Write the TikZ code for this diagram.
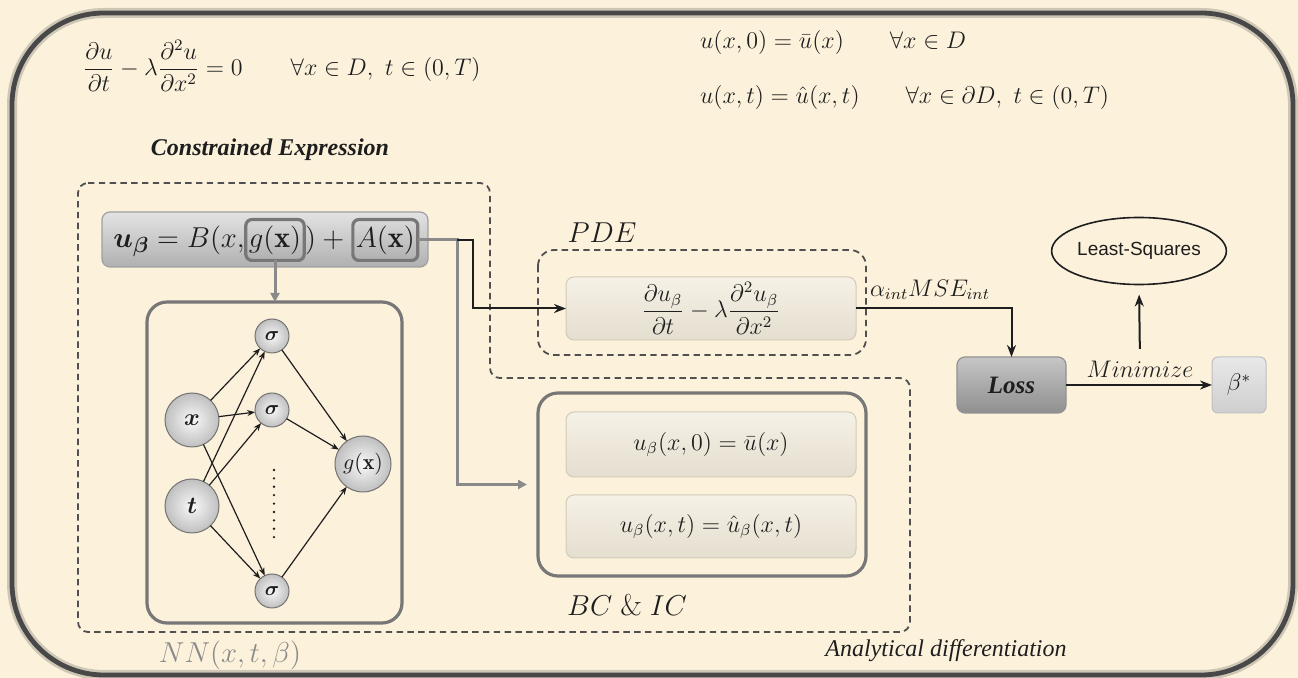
\documentclass[tikz,border=0pt]{standalone}
\usepackage{fontspec}
\usepackage{amsmath,amssymb,bm}
\newfontfamily\seriftxt{Liberation Serif}
\newfontfamily\sanstxt{Liberation Sans}
\usetikzlibrary{arrows.meta,shapes.geometric}

\definecolor{paper}{HTML}{FCF2DC}
\definecolor{frame}{HTML}{484848}
\definecolor{dashc}{HTML}{505050}
\definecolor{grayedge}{HTML}{777777}
\definecolor{grayline}{HTML}{8A8A8A}
\definecolor{ink}{HTML}{1E1E1E}
\definecolor{softtop}{HTML}{F6F1E6}
\definecolor{softbot}{HTML}{E4DECF}
\definecolor{softedge}{HTML}{D2CAB8}
\definecolor{nngray}{HTML}{8A8A8A}

\newcommand{\fs}[1]{\fontsize{#1}{#1}\selectfont}

\begin{document}
\begin{tikzpicture}[x=0.5pt,y=-0.5pt,
  every node/.style={inner sep=0pt, outer sep=0pt, text=ink},
  dashregion/.style={draw=dashc, line width=0.9pt, dash pattern=on 3.2pt off 2.2pt, rounded corners=5pt},
  graybox/.style={rectangle, draw=grayedge, line width=1.6pt, rounded corners=10pt},
  ubox/.style={rectangle, rounded corners=4pt, draw=grayedge!70, line width=0.6pt, top color=gray!22, bottom color=gray!62},
  fbox/.style={rectangle, rounded corners=3pt, draw=grayedge, line width=1.6pt, top color=gray!30, bottom color=gray!62, inner xsep=1.5pt, inner ysep=3pt},
  softbox/.style={rectangle, rounded corners=4pt, draw=softedge, line width=0.5pt, top color=softtop, bottom color=softbot},
  lossbox/.style={rectangle, rounded corners=4pt, draw=grayedge!80, line width=0.6pt, top color=gray!45, bottom color=gray!88},
  betabox/.style={rectangle, rounded corners=3pt, draw=gray!50, line width=0.5pt, top color=gray!18, bottom color=gray!38},
  neuron/.style={circle, draw=gray!110, line width=0.5pt, inner color=gray!5, outer color=gray!50},
  nnarrow/.style={-{Stealth[length=4pt,width=3pt]}, line width=0.6pt, draw=ink},
  flow/.style={-{Stealth[length=6pt,width=4.5pt]}, line width=1pt, draw=ink},
  grayflow/.style={line width=1.5pt, draw=grayline, -{Triangle[length=4.5pt,width=4.5pt]}},
]
\useasboundingbox (0,0) rectangle (1298,678);
\fill[paper] (0,0) rectangle (1298,678);

% outer frame with a soft halo
\draw[frame, opacity=0.25, line width=5pt, rounded corners=46pt] (12,13) rectangle (1293,675);
\draw[frame, line width=2.4pt, rounded corners=46pt] (12,13) rectangle (1293,675);

% governing equations
\node[anchor=west] (pde) at (83,66) {\fs{12}$\dfrac{\partial u}{\partial t} - \lambda\dfrac{\partial^2 u}{\partial x^2} = 0 \qquad \forall x \in D,\ t \in (0,T)$};
\node[anchor=west] (ic) at (700,43) {\fs{11.5}$u(x,0) = \bar{u}(x) \qquad \forall x \in D$};
\node[anchor=west] (bc) at (700,98) {\fs{11.5}$u(x,t) = \hat{u}(x,t) \qquad \forall x \in \partial D,\ t \in (0,T)$};

\node (celbl) at (270,150) {\seriftxt\bfseries\itshape\fs{12}Constrained Expression};

% analytical differentiation region
\draw[dashregion] (78,183) -- (490,183) -- (490,378) -- (910,378) -- (910,632) -- (78,632) -- cycle;
\node (adlbl) at (946,651) {\seriftxt\itshape\fs{12}Analytical differentiation};

% constrained expression
\node[ubox, minimum width=163pt, minimum height=27.5pt] (ub) at (265,239.5) {};
\node[fbox] (gx) at (275,240) {\fs{15}$g(\mathbf{x})$};
\node[anchor=base east] (ulhs) at ([xshift=-0.5pt]gx.base west) {\fs{15}$\bm{u_\beta} = B(x,$};
\node[anchor=base west] (plus) at ([xshift=0.5pt]gx.base east) {\fs{15}$) + {}$};
\node[fbox, anchor=base west] (ax) at ([xshift=1pt]plus.base east) {\fs{15}$A(\mathbf{x})$};

% neural network
\node[graybox, minimum width=127.5pt, minimum height=160.5pt] (nn) at (274.5,462.5) {};
\draw[grayflow] (gx.south) -- (gx.south |- nn.north);

\node[neuron, minimum size=27pt] (xin) at (192,420) {\fs{12}$\bm{x}$};
\node[neuron, minimum size=27pt] (tin) at (192,506) {\fs{12}$\bm{t}$};
\node[neuron, minimum size=17pt] (s1) at (272,336) {\fs{10}$\bm{\sigma}$};
\node[neuron, minimum size=17pt] (s2) at (272,410) {\fs{10}$\bm{\sigma}$};
\node[neuron, minimum size=17pt] (s3) at (272,591) {\fs{10}$\bm{\sigma}$};
\node[neuron, minimum size=28pt] (gout) at (363,464) {\fs{11}$g(\mathbf{x})$};

\foreach \a in {xin,tin}
  \foreach \b in {s1,s2,s3}
    \draw[nnarrow] (\a) -- (\b);
\foreach \b in {s1,s2,s3}
  \draw[nnarrow] (\b) -- (gout);
\draw[ink, line width=1.3pt, line cap=round, dash pattern=on 0pt off 4.2pt] (274,470) -- (274,538);

\node[text=nngray] (nnlbl) at (230,655) {\fs{15}$NN(x,t,\beta)$};

% PDE residual
\draw[dashregion, rounded corners=8pt] (538,250) rectangle (866,355);
\node (pdelbl) at (602,233) {\fs{15}$PDE$};
\node[softbox, minimum width=145pt, minimum height=31.5pt] (pdein) at (711,308.5)
  {\fs{11.5}$\dfrac{\partial u_\beta}{\partial t} - \lambda\dfrac{\partial^2 u_\beta}{\partial x^2}$};

% boundary and initial conditions
\node[graybox, minimum width=164pt, minimum height=91.5pt] (bcbox) at (702,484.5) {};
\node[softbox, minimum width=145pt, minimum height=32.5pt] (bc1) at (711,444.5) {\fs{12}$u_\beta(x,0) = \bar{u}(x)$};
\node[softbox, minimum width=145pt, minimum height=31.5pt] (bc2) at (711,526.5) {\fs{12}$u_\beta(x,t) = \hat{u}_\beta(x,t)$};
\node (bclbl) at (627,605) {\fs{15}$BC\;\&\;IC$};

% connections out of the constrained expression
\coordinate (split) at (ax.east -| 457,0);
\draw[grayflow, shorten >=5.5pt] (ax.east) -- (split) |- (bcbox.west);
\draw[flow] (split) -- ++(16,0) |- (pdein.west);

% loss and optimisation
\node[lossbox, minimum width=54.5pt, minimum height=28pt] (loss) at (1011.5,385) {\seriftxt\bfseries\itshape\fs{12.5}Loss};
\node[betabox, minimum width=27pt, minimum height=28pt] (beta) at (1239,385) {\fs{12}$\beta^{*}$};
\node (alpha) at (930,290) {\fs{12}$\alpha_{int}MSE_{int}$};
\draw[flow] (pdein.east) -| (loss.north);
\draw[flow] (loss) -- (beta);
\node (minlbl) at (1140,369) {\fs{12}$Minimize$};
\node[ellipse, draw=ink, line width=0.8pt, minimum width=82pt, minimum height=33.5pt] (ls) at (1139,251) {\sanstxt\fs{9.5}Least-Squares};
\draw[flow, shorten <=6pt, shorten >=5pt] (minlbl.north) -- (ls.south);
\end{tikzpicture}
\end{document}
